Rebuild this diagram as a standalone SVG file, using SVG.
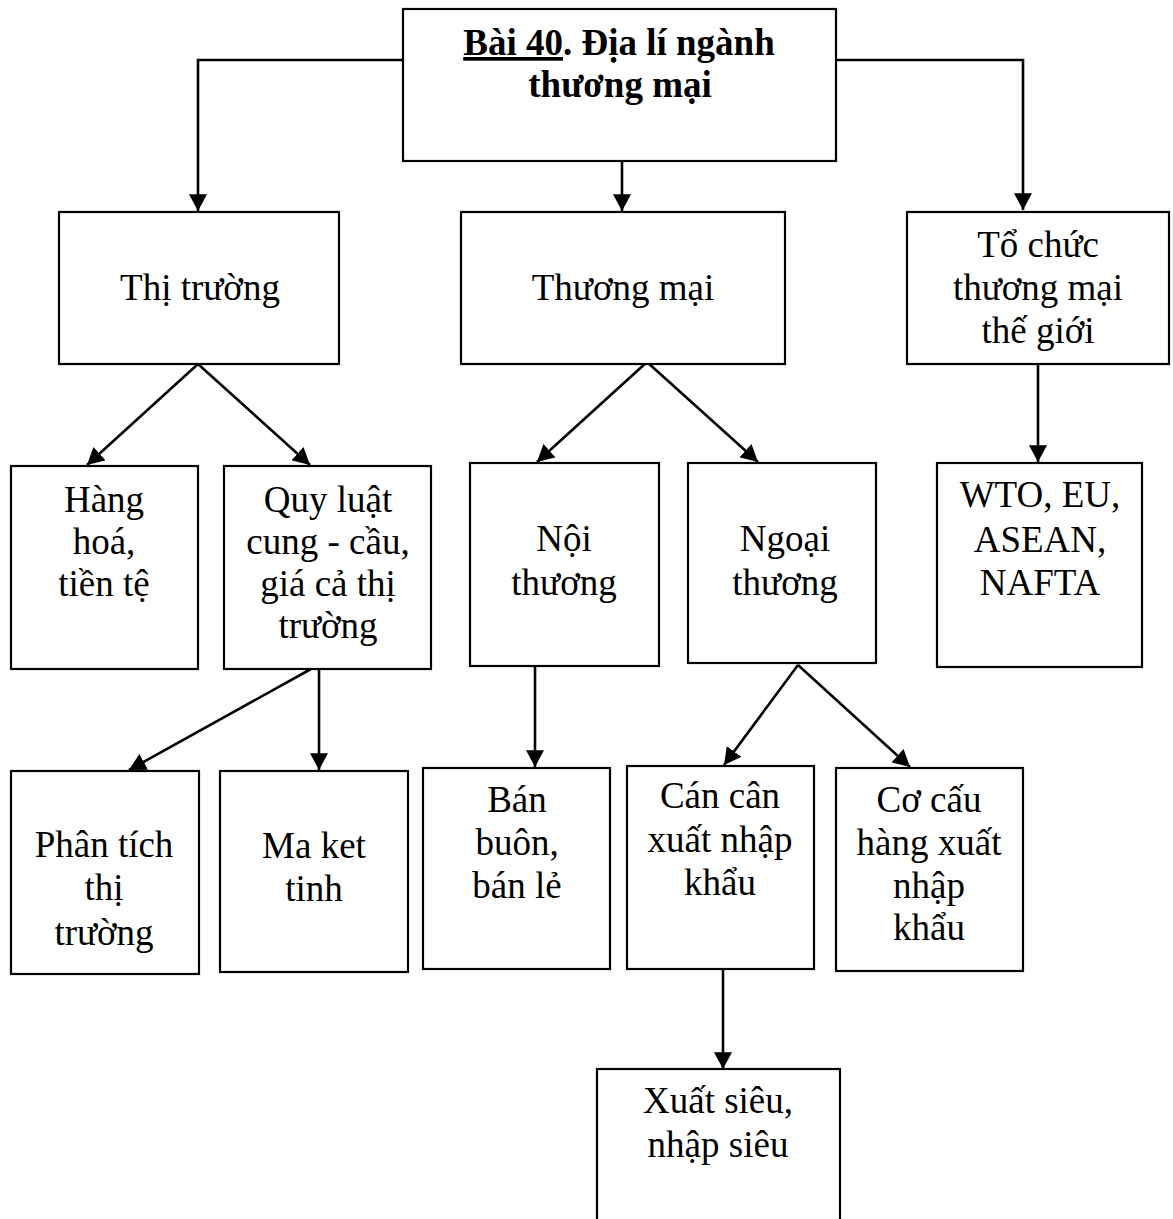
<svg xmlns="http://www.w3.org/2000/svg" width="1173" height="1219" viewBox="0 0 1173 1219">
  <style>
    .box { fill: #ffffff; stroke: #000000; stroke-width: 2.2; }
    .lbl { font-family: "Liberation Serif", "Times New Roman", serif; font-size: 37px; fill: #000000; text-anchor: middle; }
    .ttl { font-weight: bold; }
    .edge { fill: none; stroke: #000000; stroke-width: 2.6; marker-end: url(#arrow); }
  </style>
  <defs>
    <marker id="arrow" markerUnits="userSpaceOnUse" markerWidth="18" markerHeight="18" viewBox="0 0 16 16" refX="15" refY="8" orient="auto">
      <path d="M0,0 L15,8 L0,16 Z" fill="#000000"/>
    </marker>
  </defs>
  <rect width="1173" height="1219" fill="#ffffff"/>

  <!-- connectors -->
  <g id="connectors">
    <polyline class="edge" points="403,60 198,60 198,211"/>
    <line class="edge" x1="622" y1="161" x2="622" y2="211"/>
    <polyline class="edge" points="836,60 1023,60 1023,210"/>
    <line class="edge" x1="198" y1="364" x2="87" y2="465"/>
    <line class="edge" x1="198" y1="364" x2="310" y2="465"/>
    <line class="edge" x1="647" y1="362" x2="537" y2="462"/>
    <line class="edge" x1="647" y1="362" x2="758" y2="462"/>
    <line class="edge" x1="1038" y1="364" x2="1038" y2="462"/>
    <line class="edge" x1="311" y1="669" x2="129" y2="770"/>
    <line class="edge" x1="319" y1="669" x2="319" y2="770"/>
    <line class="edge" x1="535" y1="666" x2="535" y2="767"/>
    <line class="edge" x1="798" y1="665" x2="724" y2="765"/>
    <line class="edge" x1="798" y1="665" x2="910" y2="767"/>
    <line class="edge" x1="723" y1="969" x2="723" y2="1069"/>
  </g>

  <!-- title -->
  <g id="node-title">
    <rect class="box" x="403" y="9" width="433" height="152"/>
    <text class="lbl ttl" x="619" y="55"><tspan text-decoration="underline">Bài 40</tspan>. Địa lí ngành</text>
    <text class="lbl ttl" x="620" y="97">thương mại</text>
  </g>

  <!-- second level -->
  <g id="node-thi-truong">
    <rect class="box" x="59" y="212" width="280" height="152"/>
    <text class="lbl" x="200" y="300">Thị trường</text>
  </g>
  <g id="node-thuong-mai">
    <rect class="box" x="461" y="212" width="324" height="152"/>
    <text class="lbl" x="623" y="300">Thương mại</text>
  </g>
  <g id="node-to-chuc">
    <rect class="box" x="907" y="212" width="262" height="152"/>
    <text class="lbl" x="1038" y="257">Tổ chức</text>
    <text class="lbl" x="1038" y="300">thương mại</text>
    <text class="lbl" x="1038" y="343">thế giới</text>
  </g>

  <!-- third level -->
  <g id="node-hang-hoa">
    <rect class="box" x="11" y="466" width="187" height="203"/>
    <text class="lbl" x="104" y="512">Hàng</text>
    <text class="lbl" x="104" y="554">hoá,</text>
    <text class="lbl" x="104" y="596">tiền tệ</text>
  </g>
  <g id="node-quy-luat">
    <rect class="box" x="224" y="466" width="207" height="203"/>
    <text class="lbl" x="328" y="512">Quy luật</text>
    <text class="lbl" x="328" y="554">cung - cầu,</text>
    <text class="lbl" x="328" y="596">giá cả thị</text>
    <text class="lbl" x="328" y="638">trường</text>
  </g>
  <g id="node-noi-thuong">
    <rect class="box" x="470" y="463" width="189" height="203"/>
    <text class="lbl" x="564" y="551">Nội</text>
    <text class="lbl" x="564" y="595">thương</text>
  </g>
  <g id="node-ngoai-thuong">
    <rect class="box" x="688" y="463" width="188" height="200"/>
    <text class="lbl" x="785" y="551">Ngoại</text>
    <text class="lbl" x="785" y="595">thương</text>
  </g>
  <g id="node-to-chuc-list">
    <rect class="box" x="937" y="463" width="205" height="204"/>
    <text class="lbl" x="1040" y="507">WTO, EU,</text>
    <text class="lbl" x="1040" y="552">ASEAN,</text>
    <text class="lbl" x="1040" y="595">NAFTA</text>
  </g>

  <!-- fourth level -->
  <g id="node-phan-tich">
    <rect class="box" x="11" y="771" width="188" height="203"/>
    <text class="lbl" x="104" y="857">Phân tích</text>
    <text class="lbl" x="104" y="900">thị</text>
    <text class="lbl" x="104" y="945">trường</text>
  </g>
  <g id="node-ma-ket">
    <rect class="box" x="220" y="771" width="188" height="201"/>
    <text class="lbl" x="314" y="858">Ma ket</text>
    <text class="lbl" x="314" y="901">tinh</text>
  </g>
  <g id="node-ban-buon">
    <rect class="box" x="423" y="768" width="187" height="201"/>
    <text class="lbl" x="517" y="812">Bán</text>
    <text class="lbl" x="517" y="855">buôn,</text>
    <text class="lbl" x="517" y="898">bán lẻ</text>
  </g>
  <g id="node-can-can">
    <rect class="box" x="627" y="766" width="187" height="203"/>
    <text class="lbl" x="720" y="808">Cán cân</text>
    <text class="lbl" x="720" y="852">xuất nhập</text>
    <text class="lbl" x="720" y="895">khẩu</text>
  </g>
  <g id="node-co-cau">
    <rect class="box" x="836" y="768" width="187" height="203"/>
    <text class="lbl" x="929" y="812">Cơ cấu</text>
    <text class="lbl" x="929" y="855">hàng xuất</text>
    <text class="lbl" x="929" y="898">nhập</text>
    <text class="lbl" x="929" y="940">khẩu</text>
  </g>

  <!-- fifth level, runs off the bottom edge -->
  <g id="node-xuat-sieu">
    <rect class="box" x="597" y="1069" width="243" height="180"/>
    <text class="lbl" x="718" y="1113">Xuất siêu,</text>
    <text class="lbl" x="718" y="1157">nhập siêu</text>
  </g>
</svg>
